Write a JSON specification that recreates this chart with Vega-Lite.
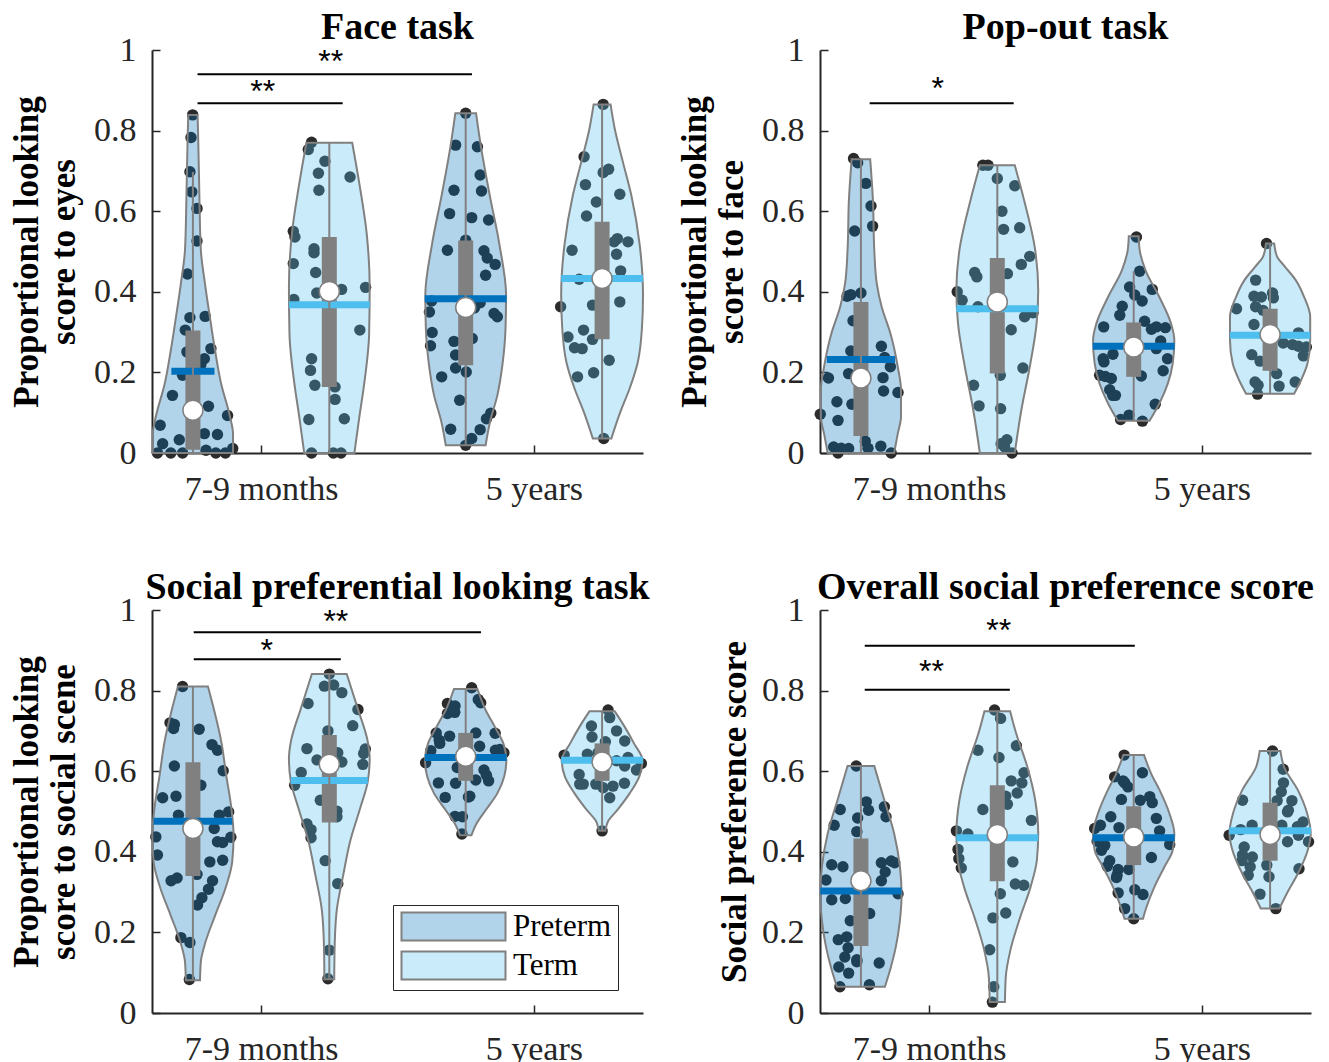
{
"$schema": "https://vega.github.io/schema/vega-lite/v6.json",
"background": "white",
"padding": {"left": 9, "top": 9, "right": 5, "bottom": 5},
"bounds": "flush",
"columns": 2,
"spacing": {"row": 157, "column": 177},
"resolve": {"scale": {"fill": "independent", "stroke": "independent"}, "legend": {"fill": "independent", "stroke": "independent"}},
"config": {
  "view": {"stroke": null},
  "font": "Liberation Serif",
  "axis": {"domainColor": "#262626", "domainWidth": 2, "tickColor": "#262626", "tickWidth": 1.5, "tickSize": -8, "labelFont": "Liberation Serif", "labelFontSize": 34, "labelColor": "#262626", "grid": false, "titleFont": "Liberation Serif", "titleFontSize": 35, "titleFontWeight": "bold", "titleColor": "black", "labelOverlap": false, "labelFlush": false},
  "axisX": {"labelPadding": 27},
  "axisY": {"labelPadding": 24, "titleAngle": 270, "titleX": -126, "titleY": 201.5, "titleAlign": "center", "titleBaseline": "middle", "titleLineHeight": 37},
  "title": {"font": "Liberation Serif", "fontSize": 38, "fontWeight": "bold", "color": "black", "anchor": "middle", "frame": "group", "baseline": "alphabetic", "offset": -14}
},
"datasets": {
"vio": [
{"p":"A","v":"A1","g":"Preterm","y":0,"lo":0.603,"hi":0.897},{"p":"A","v":"A1","g":"Preterm","y":0.048,"lo":0.603,"hi":0.897},{"p":"A","v":"A1","g":"Preterm","y":0.09,"lo":0.614,"hi":0.886},{"p":"A","v":"A1","g":"Preterm","y":0.173,"lo":0.647,"hi":0.853},{"p":"A","v":"A1","g":"Preterm","y":0.255,"lo":0.669,"hi":0.831},{"p":"A","v":"A1","g":"Preterm","y":0.338,"lo":0.688,"hi":0.812},{"p":"A","v":"A1","g":"Preterm","y":0.421,"lo":0.706,"hi":0.794},{"p":"A","v":"A1","g":"Preterm","y":0.504,"lo":0.721,"hi":0.779},{"p":"A","v":"A1","g":"Preterm","y":0.627,"lo":0.726,"hi":0.774},{"p":"A","v":"A1","g":"Preterm","y":0.793,"lo":0.731,"hi":0.769},{"p":"A","v":"A1","g":"Preterm","y":0.839,"lo":0.733,"hi":0.767},
{"p":"A","v":"A2","g":"Term","y":0,"lo":1.158,"hi":1.342},{"p":"A","v":"A2","g":"Term","y":0.089,"lo":1.14,"hi":1.36},{"p":"A","v":"A2","g":"Term","y":0.172,"lo":1.122,"hi":1.378},{"p":"A","v":"A2","g":"Term","y":0.296,"lo":1.104,"hi":1.396},{"p":"A","v":"A2","g":"Term","y":0.412,"lo":1.102,"hi":1.398},{"p":"A","v":"A2","g":"Term","y":0.545,"lo":1.113,"hi":1.387},{"p":"A","v":"A2","g":"Term","y":0.669,"lo":1.14,"hi":1.36},{"p":"A","v":"A2","g":"Term","y":0.77,"lo":1.166,"hi":1.334},
{"p":"A","v":"A3","g":"Preterm","y":0.019,"lo":1.677,"hi":1.823},{"p":"A","v":"A3","g":"Preterm","y":0.077,"lo":1.661,"hi":1.839},{"p":"A","v":"A3","g":"Preterm","y":0.143,"lo":1.634,"hi":1.866},{"p":"A","v":"A3","g":"Preterm","y":0.226,"lo":1.614,"hi":1.886},{"p":"A","v":"A3","g":"Preterm","y":0.309,"lo":1.604,"hi":1.896},{"p":"A","v":"A3","g":"Preterm","y":0.392,"lo":1.602,"hi":1.898},{"p":"A","v":"A3","g":"Preterm","y":0.516,"lo":1.626,"hi":1.874},{"p":"A","v":"A3","g":"Preterm","y":0.64,"lo":1.662,"hi":1.838},{"p":"A","v":"A3","g":"Preterm","y":0.764,"lo":1.695,"hi":1.805},{"p":"A","v":"A3","g":"Preterm","y":0.843,"lo":1.712,"hi":1.788},
{"p":"A","v":"A4","g":"Term","y":0.036,"lo":2.216,"hi":2.284},{"p":"A","v":"A4","g":"Term","y":0.061,"lo":2.204,"hi":2.296},{"p":"A","v":"A4","g":"Term","y":0.102,"lo":2.183,"hi":2.317},{"p":"A","v":"A4","g":"Term","y":0.16,"lo":2.149,"hi":2.351},{"p":"A","v":"A4","g":"Term","y":0.226,"lo":2.119,"hi":2.381},{"p":"A","v":"A4","g":"Term","y":0.309,"lo":2.104,"hi":2.396},{"p":"A","v":"A4","g":"Term","y":0.392,"lo":2.1,"hi":2.4},{"p":"A","v":"A4","g":"Term","y":0.516,"lo":2.112,"hi":2.388},{"p":"A","v":"A4","g":"Term","y":0.64,"lo":2.143,"hi":2.357},{"p":"A","v":"A4","g":"Term","y":0.723,"lo":2.174,"hi":2.326},{"p":"A","v":"A4","g":"Term","y":0.806,"lo":2.204,"hi":2.296},{"p":"A","v":"A4","g":"Term","y":0.865,"lo":2.219,"hi":2.281},
{"p":"B","v":"B1","g":"Preterm","y":0,"lo":0.628,"hi":0.872},{"p":"B","v":"B1","g":"Preterm","y":0.048,"lo":0.615,"hi":0.885},{"p":"B","v":"B1","g":"Preterm","y":0.09,"lo":0.603,"hi":0.897},{"p":"B","v":"B1","g":"Preterm","y":0.156,"lo":0.603,"hi":0.897},{"p":"B","v":"B1","g":"Preterm","y":0.214,"lo":0.615,"hi":0.885},{"p":"B","v":"B1","g":"Preterm","y":0.297,"lo":0.642,"hi":0.858},{"p":"B","v":"B1","g":"Preterm","y":0.363,"lo":0.674,"hi":0.826},{"p":"B","v":"B1","g":"Preterm","y":0.421,"lo":0.692,"hi":0.808},{"p":"B","v":"B1","g":"Preterm","y":0.503,"lo":0.701,"hi":0.799},{"p":"B","v":"B1","g":"Preterm","y":0.628,"lo":0.706,"hi":0.794},{"p":"B","v":"B1","g":"Preterm","y":0.729,"lo":0.716,"hi":0.784},
{"p":"B","v":"B2","g":"Term","y":0,"lo":1.186,"hi":1.314},{"p":"B","v":"B2","g":"Term","y":0.106,"lo":1.162,"hi":1.338},{"p":"B","v":"B2","g":"Term","y":0.214,"lo":1.131,"hi":1.369},{"p":"B","v":"B2","g":"Term","y":0.321,"lo":1.106,"hi":1.394},{"p":"B","v":"B2","g":"Term","y":0.404,"lo":1.1,"hi":1.4},{"p":"B","v":"B2","g":"Term","y":0.503,"lo":1.111,"hi":1.389},{"p":"B","v":"B2","g":"Term","y":0.628,"lo":1.152,"hi":1.348},{"p":"B","v":"B2","g":"Term","y":0.714,"lo":1.186,"hi":1.314},
{"p":"B","v":"B3","g":"Preterm","y":0.08,"lo":1.692,"hi":1.808},{"p":"B","v":"B3","g":"Preterm","y":0.123,"lo":1.656,"hi":1.844},{"p":"B","v":"B3","g":"Preterm","y":0.172,"lo":1.625,"hi":1.875},{"p":"B","v":"B3","g":"Preterm","y":0.222,"lo":1.607,"hi":1.893},{"p":"B","v":"B3","g":"Preterm","y":0.28,"lo":1.601,"hi":1.899},{"p":"B","v":"B3","g":"Preterm","y":0.321,"lo":1.613,"hi":1.887},{"p":"B","v":"B3","g":"Preterm","y":0.387,"lo":1.656,"hi":1.844},{"p":"B","v":"B3","g":"Preterm","y":0.454,"lo":1.707,"hi":1.793},{"p":"B","v":"B3","g":"Preterm","y":0.503,"lo":1.728,"hi":1.772},{"p":"B","v":"B3","g":"Preterm","y":0.538,"lo":1.732,"hi":1.768},
{"p":"B","v":"B4","g":"Term","y":0.147,"lo":2.162,"hi":2.338},{"p":"B","v":"B4","g":"Term","y":0.18,"lo":2.137,"hi":2.363},{"p":"B","v":"B4","g":"Term","y":0.222,"lo":2.113,"hi":2.387},{"p":"B","v":"B4","g":"Term","y":0.28,"lo":2.103,"hi":2.397},{"p":"B","v":"B4","g":"Term","y":0.338,"lo":2.103,"hi":2.397},{"p":"B","v":"B4","g":"Term","y":0.387,"lo":2.125,"hi":2.375},{"p":"B","v":"B4","g":"Term","y":0.429,"lo":2.156,"hi":2.344},{"p":"B","v":"B4","g":"Term","y":0.462,"lo":2.195,"hi":2.305},{"p":"B","v":"B4","g":"Term","y":0.487,"lo":2.224,"hi":2.276},{"p":"B","v":"B4","g":"Term","y":0.52,"lo":2.235,"hi":2.265},
{"p":"C","v":"C1","g":"Preterm","y":0.081,"lo":0.724,"hi":0.776},{"p":"C","v":"C1","g":"Preterm","y":0.127,"lo":0.721,"hi":0.779},{"p":"C","v":"C1","g":"Preterm","y":0.176,"lo":0.704,"hi":0.796},{"p":"C","v":"C1","g":"Preterm","y":0.243,"lo":0.668,"hi":0.832},{"p":"C","v":"C1","g":"Preterm","y":0.309,"lo":0.631,"hi":0.869},{"p":"C","v":"C1","g":"Preterm","y":0.375,"lo":0.606,"hi":0.894},{"p":"C","v":"C1","g":"Preterm","y":0.441,"lo":0.601,"hi":0.899},{"p":"C","v":"C1","g":"Preterm","y":0.508,"lo":0.609,"hi":0.891},{"p":"C","v":"C1","g":"Preterm","y":0.59,"lo":0.628,"hi":0.872},{"p":"C","v":"C1","g":"Preterm","y":0.673,"lo":0.646,"hi":0.854},{"p":"C","v":"C1","g":"Preterm","y":0.756,"lo":0.674,"hi":0.826},{"p":"C","v":"C1","g":"Preterm","y":0.81,"lo":0.695,"hi":0.805},
{"p":"C","v":"C2","g":"Term","y":0.084,"lo":1.232,"hi":1.268},{"p":"C","v":"C2","g":"Term","y":0.176,"lo":1.23,"hi":1.27},{"p":"C","v":"C2","g":"Term","y":0.259,"lo":1.222,"hi":1.278},{"p":"C","v":"C2","g":"Term","y":0.342,"lo":1.199,"hi":1.301},{"p":"C","v":"C2","g":"Term","y":0.425,"lo":1.174,"hi":1.326},{"p":"C","v":"C2","g":"Term","y":0.508,"lo":1.137,"hi":1.363},{"p":"C","v":"C2","g":"Term","y":0.574,"lo":1.109,"hi":1.391},{"p":"C","v":"C2","g":"Term","y":0.632,"lo":1.102,"hi":1.398},{"p":"C","v":"C2","g":"Term","y":0.673,"lo":1.109,"hi":1.391},{"p":"C","v":"C2","g":"Term","y":0.756,"lo":1.146,"hi":1.354},{"p":"C","v":"C2","g":"Term","y":0.841,"lo":1.186,"hi":1.314},
{"p":"C","v":"C3","g":"Preterm","y":0.441,"lo":1.729,"hi":1.771},{"p":"C","v":"C3","g":"Preterm","y":0.47,"lo":1.71,"hi":1.79},{"p":"C","v":"C3","g":"Preterm","y":0.503,"lo":1.677,"hi":1.823},{"p":"C","v":"C3","g":"Preterm","y":0.545,"lo":1.634,"hi":1.866},{"p":"C","v":"C3","g":"Preterm","y":0.586,"lo":1.609,"hi":1.891},{"p":"C","v":"C3","g":"Preterm","y":0.627,"lo":1.601,"hi":1.899},{"p":"C","v":"C3","g":"Preterm","y":0.669,"lo":1.612,"hi":1.888},{"p":"C","v":"C3","g":"Preterm","y":0.71,"lo":1.643,"hi":1.857},{"p":"C","v":"C3","g":"Preterm","y":0.752,"lo":1.677,"hi":1.823},{"p":"C","v":"C3","g":"Preterm","y":0.804,"lo":1.707,"hi":1.793},
{"p":"C","v":"C4","g":"Term","y":0.452,"lo":2.238,"hi":2.262},{"p":"C","v":"C4","g":"Term","y":0.478,"lo":2.226,"hi":2.274},{"p":"C","v":"C4","g":"Term","y":0.503,"lo":2.195,"hi":2.305},{"p":"C","v":"C4","g":"Term","y":0.545,"lo":2.149,"hi":2.351},{"p":"C","v":"C4","g":"Term","y":0.586,"lo":2.114,"hi":2.386},{"p":"C","v":"C4","g":"Term","y":0.627,"lo":2.102,"hi":2.398},{"p":"C","v":"C4","g":"Term","y":0.669,"lo":2.133,"hi":2.367},{"p":"C","v":"C4","g":"Term","y":0.71,"lo":2.167,"hi":2.333},{"p":"C","v":"C4","g":"Term","y":0.749,"lo":2.204,"hi":2.296},
{"p":"D","v":"D1","g":"Preterm","y":0.065,"lo":0.662,"hi":0.838},{"p":"D","v":"D1","g":"Preterm","y":0.114,"lo":0.64,"hi":0.86},{"p":"D","v":"D1","g":"Preterm","y":0.164,"lo":0.622,"hi":0.878},{"p":"D","v":"D1","g":"Preterm","y":0.23,"lo":0.607,"hi":0.893},{"p":"D","v":"D1","g":"Preterm","y":0.296,"lo":0.601,"hi":0.899},{"p":"D","v":"D1","g":"Preterm","y":0.363,"lo":0.607,"hi":0.893},{"p":"D","v":"D1","g":"Preterm","y":0.445,"lo":0.628,"hi":0.872},{"p":"D","v":"D1","g":"Preterm","y":0.528,"lo":0.664,"hi":0.836},{"p":"D","v":"D1","g":"Preterm","y":0.613,"lo":0.701,"hi":0.799},
{"p":"D","v":"D2","g":"Term","y":0.027,"lo":1.222,"hi":1.278},{"p":"D","v":"D2","g":"Term","y":0.089,"lo":1.219,"hi":1.281},{"p":"D","v":"D2","g":"Term","y":0.156,"lo":1.202,"hi":1.298},{"p":"D","v":"D2","g":"Term","y":0.238,"lo":1.166,"hi":1.334},{"p":"D","v":"D2","g":"Term","y":0.313,"lo":1.128,"hi":1.372},{"p":"D","v":"D2","g":"Term","y":0.379,"lo":1.105,"hi":1.395},{"p":"D","v":"D2","g":"Term","y":0.445,"lo":1.1,"hi":1.4},{"p":"D","v":"D2","g":"Term","y":0.528,"lo":1.111,"hi":1.389},{"p":"D","v":"D2","g":"Term","y":0.611,"lo":1.14,"hi":1.36},{"p":"D","v":"D2","g":"Term","y":0.694,"lo":1.181,"hi":1.319},{"p":"D","v":"D2","g":"Term","y":0.749,"lo":1.203,"hi":1.297},
{"p":"D","v":"D3","g":"Preterm","y":0.234,"lo":1.716,"hi":1.784},{"p":"D","v":"D3","g":"Preterm","y":0.263,"lo":1.703,"hi":1.797},{"p":"D","v":"D3","g":"Preterm","y":0.313,"lo":1.674,"hi":1.826},{"p":"D","v":"D3","g":"Preterm","y":0.363,"lo":1.637,"hi":1.863},{"p":"D","v":"D3","g":"Preterm","y":0.404,"lo":1.607,"hi":1.893},{"p":"D","v":"D3","g":"Preterm","y":0.445,"lo":1.601,"hi":1.899},{"p":"D","v":"D3","g":"Preterm","y":0.495,"lo":1.619,"hi":1.881},{"p":"D","v":"D3","g":"Preterm","y":0.553,"lo":1.655,"hi":1.845},{"p":"D","v":"D3","g":"Preterm","y":0.594,"lo":1.686,"hi":1.814},{"p":"D","v":"D3","g":"Preterm","y":0.64,"lo":1.712,"hi":1.788},
{"p":"D","v":"D4","g":"Term","y":0.259,"lo":2.216,"hi":2.284},{"p":"D","v":"D4","g":"Term","y":0.296,"lo":2.189,"hi":2.311},{"p":"D","v":"D4","g":"Term","y":0.346,"lo":2.148,"hi":2.352},{"p":"D","v":"D4","g":"Term","y":0.404,"lo":2.112,"hi":2.388},{"p":"D","v":"D4","g":"Term","y":0.445,"lo":2.101,"hi":2.399},{"p":"D","v":"D4","g":"Term","y":0.495,"lo":2.114,"hi":2.386},{"p":"D","v":"D4","g":"Term","y":0.553,"lo":2.148,"hi":2.352},{"p":"D","v":"D4","g":"Term","y":0.611,"lo":2.199,"hi":2.301},{"p":"D","v":"D4","g":"Term","y":0.65,"lo":2.212,"hi":2.288}
],
"pts": [
{"p":"A","x":0.749,"y":0.839},{"p":"A","x":0.743,"y":0.783},{"p":"A","x":0.739,"y":0.698},{"p":"A","x":0.746,"y":0.648},{"p":"A","x":0.765,"y":0.607},{"p":"A","x":0.765,"y":0.526},{"p":"A","x":0.73,"y":0.444},{"p":"A","x":0.739,"y":0.336},{"p":"A","x":0.795,"y":0.339},{"p":"A","x":0.722,"y":0.305},{"p":"A","x":0.816,"y":0.259},{"p":"A","x":0.728,"y":0.251},{"p":"A","x":0.792,"y":0.234},{"p":"A","x":0.779,"y":0.219},{"p":"A","x":0.712,"y":0.193},{"p":"A","x":0.675,"y":0.143},{"p":"A","x":0.807,"y":0.116},{"p":"A","x":0.877,"y":0.093},{"p":"A","x":0.63,"y":0.069},{"p":"A","x":0.792,"y":0.048},{"p":"A","x":0.84,"y":0.046},{"p":"A","x":0.7,"y":0.033},{"p":"A","x":0.639,"y":0.023},{"p":"A","x":0.798,"y":0.007},{"p":"A","x":0.62,"y":0},{"p":"A","x":0.669,"y":0},{"p":"A","x":0.712,"y":0},{"p":"A","x":0.834,"y":0},{"p":"A","x":0.869,"y":0},{"p":"A","x":0.896,"y":0.011},
{"p":"A","x":1.185,"y":0.771},{"p":"A","x":1.173,"y":0.753},{"p":"A","x":1.234,"y":0.724},{"p":"A","x":1.21,"y":0.694},{"p":"A","x":1.326,"y":0.685},{"p":"A","x":1.212,"y":0.652},{"p":"A","x":1.118,"y":0.55},{"p":"A","x":1.124,"y":0.536},{"p":"A","x":1.194,"y":0.507},{"p":"A","x":1.194,"y":0.497},{"p":"A","x":1.118,"y":0.47},{"p":"A","x":1.2,"y":0.448},{"p":"A","x":1.204,"y":0.397},{"p":"A","x":1.295,"y":0.406},{"p":"A","x":1.383,"y":0.411},{"p":"A","x":1.12,"y":0.381},{"p":"A","x":1.362,"y":0.305},{"p":"A","x":1.185,"y":0.234},{"p":"A","x":1.181,"y":0.205},{"p":"A","x":1.197,"y":0.168},{"p":"A","x":1.271,"y":0.164},{"p":"A","x":1.271,"y":0.133},{"p":"A","x":1.175,"y":0.083},{"p":"A","x":1.305,"y":0.085},{"p":"A","x":1.185,"y":0},{"p":"A","x":1.265,"y":0},{"p":"A","x":1.293,"y":0},
{"p":"A","x":1.75,"y":0.843},{"p":"A","x":1.713,"y":0.764},{"p":"A","x":1.793,"y":0.76},{"p":"A","x":1.803,"y":0.69},{"p":"A","x":1.707,"y":0.652},{"p":"A","x":1.808,"y":0.65},{"p":"A","x":1.691,"y":0.594},{"p":"A","x":1.772,"y":0.584},{"p":"A","x":1.834,"y":0.578},{"p":"A","x":1.75,"y":0.528},{"p":"A","x":1.683,"y":0.503},{"p":"A","x":1.817,"y":0.502},{"p":"A","x":1.829,"y":0.484},{"p":"A","x":1.858,"y":0.468},{"p":"A","x":1.823,"y":0.441},{"p":"A","x":1.625,"y":0.377},{"p":"A","x":1.803,"y":0.373},{"p":"A","x":1.782,"y":0.36},{"p":"A","x":1.617,"y":0.35},{"p":"A","x":1.854,"y":0.346},{"p":"A","x":1.866,"y":0.338},{"p":"A","x":1.627,"y":0.299},{"p":"A","x":1.621,"y":0.266},{"p":"A","x":1.707,"y":0.277},{"p":"A","x":1.713,"y":0.243},{"p":"A","x":1.774,"y":0.284},{"p":"A","x":1.713,"y":0.211},{"p":"A","x":1.752,"y":0.201},{"p":"A","x":1.662,"y":0.189},{"p":"A","x":1.728,"y":0.131},{"p":"A","x":1.842,"y":0.099},{"p":"A","x":1.826,"y":0.085},{"p":"A","x":1.695,"y":0.059},{"p":"A","x":1.803,"y":0.058},{"p":"A","x":1.772,"y":0.036},{"p":"A","x":1.75,"y":0.019},
{"p":"A","x":2.254,"y":0.865},{"p":"A","x":2.184,"y":0.735},{"p":"A","x":2.254,"y":0.696},{"p":"A","x":2.274,"y":0.704},{"p":"A","x":2.189,"y":0.666},{"p":"A","x":2.315,"y":0.642},{"p":"A","x":2.229,"y":0.623},{"p":"A","x":2.193,"y":0.588},{"p":"A","x":2.306,"y":0.532},{"p":"A","x":2.345,"y":0.524},{"p":"A","x":2.294,"y":0.524},{"p":"A","x":2.303,"y":0.493},{"p":"A","x":2.14,"y":0.503},{"p":"A","x":2.318,"y":0.452},{"p":"A","x":2.166,"y":0.431},{"p":"A","x":2.098,"y":0.363},{"p":"A","x":2.215,"y":0.367},{"p":"A","x":2.315,"y":0.375},{"p":"A","x":2.125,"y":0.288},{"p":"A","x":2.182,"y":0.305},{"p":"A","x":2.149,"y":0.261},{"p":"A","x":2.177,"y":0.259},{"p":"A","x":2.215,"y":0.282},{"p":"A","x":2.276,"y":0.23},{"p":"A","x":2.16,"y":0.189},{"p":"A","x":2.219,"y":0.199},{"p":"A","x":2.256,"y":0.036},
{"p":"B","x":0.723,"y":0.731},{"p":"B","x":0.738,"y":0.72},{"p":"B","x":0.768,"y":0.669},{"p":"B","x":0.787,"y":0.613},{"p":"B","x":0.793,"y":0.563},{"p":"B","x":0.727,"y":0.551},{"p":"B","x":0.699,"y":0.389},{"p":"B","x":0.713,"y":0.393},{"p":"B","x":0.75,"y":0.397},{"p":"B","x":0.721,"y":0.328},{"p":"B","x":0.713,"y":0.253},{"p":"B","x":0.825,"y":0.265},{"p":"B","x":0.837,"y":0.237},{"p":"B","x":0.858,"y":0.214},{"p":"B","x":0.705,"y":0.197},{"p":"B","x":0.631,"y":0.186},{"p":"B","x":0.831,"y":0.187},{"p":"B","x":0.833,"y":0.154},{"p":"B","x":0.886,"y":0.15},{"p":"B","x":0.662,"y":0.127},{"p":"B","x":0.717,"y":0.121},{"p":"B","x":0.601,"y":0.096},{"p":"B","x":0.666,"y":0.081},{"p":"B","x":0.766,"y":0.029},{"p":"B","x":0.776,"y":0.012},{"p":"B","x":0.823,"y":0.017},{"p":"B","x":0.65,"y":0.015},{"p":"B","x":0.678,"y":0.012},{"p":"B","x":0.705,"y":0.011},{"p":"B","x":0.666,"y":0},{"p":"B","x":0.861,"y":0},
{"p":"B","x":1.197,"y":0.714},{"p":"B","x":1.216,"y":0.714},{"p":"B","x":1.25,"y":0.681},{"p":"B","x":1.314,"y":0.663},{"p":"B","x":1.267,"y":0.6},{"p":"B","x":1.273,"y":0.555},{"p":"B","x":1.332,"y":0.559},{"p":"B","x":1.369,"y":0.488},{"p":"B","x":1.338,"y":0.468},{"p":"B","x":1.167,"y":0.448},{"p":"B","x":1.175,"y":0.437},{"p":"B","x":1.287,"y":0.445},{"p":"B","x":1.103,"y":0.4},{"p":"B","x":1.121,"y":0.379},{"p":"B","x":1.179,"y":0.363},{"p":"B","x":1.381,"y":0.348},{"p":"B","x":1.35,"y":0.338},{"p":"B","x":1.301,"y":0.306},{"p":"B","x":1.261,"y":0.193},{"p":"B","x":1.344,"y":0.211},{"p":"B","x":1.163,"y":0.168},{"p":"B","x":1.183,"y":0.117},{"p":"B","x":1.262,"y":0.11},{"p":"B","x":1.285,"y":0.033},{"p":"B","x":1.264,"y":0.023},{"p":"B","x":1.277,"y":0.015},{"p":"B","x":1.304,"y":0},
{"p":"B","x":1.76,"y":0.536},{"p":"B","x":1.772,"y":0.451},{"p":"B","x":1.735,"y":0.412},{"p":"B","x":1.818,"y":0.406},{"p":"B","x":1.754,"y":0.392},{"p":"B","x":1.781,"y":0.377},{"p":"B","x":1.708,"y":0.364},{"p":"B","x":1.699,"y":0.342},{"p":"B","x":1.64,"y":0.313},{"p":"B","x":1.79,"y":0.327},{"p":"B","x":1.815,"y":0.307},{"p":"B","x":1.833,"y":0.313},{"p":"B","x":1.866,"y":0.311},{"p":"B","x":1.849,"y":0.278},{"p":"B","x":1.833,"y":0.259},{"p":"B","x":1.674,"y":0.245},{"p":"B","x":1.638,"y":0.234},{"p":"B","x":1.641,"y":0.226},{"p":"B","x":1.874,"y":0.234},{"p":"B","x":1.858,"y":0.204},{"p":"B","x":1.625,"y":0.193},{"p":"B","x":1.646,"y":0.19},{"p":"B","x":1.668,"y":0.185},{"p":"B","x":1.778,"y":0.191},{"p":"B","x":1.662,"y":0.157},{"p":"B","x":1.673,"y":0.143},{"p":"B","x":1.683,"y":0.143},{"p":"B","x":1.829,"y":0.121},{"p":"B","x":1.733,"y":0.094},{"p":"B","x":1.702,"y":0.083},{"p":"B","x":1.782,"y":0.079},
{"p":"B","x":2.237,"y":0.52},{"p":"B","x":2.197,"y":0.429},{"p":"B","x":2.191,"y":0.389},{"p":"B","x":2.218,"y":0.387},{"p":"B","x":2.259,"y":0.397},{"p":"B","x":2.262,"y":0.385},{"p":"B","x":2.127,"y":0.358},{"p":"B","x":2.197,"y":0.363},{"p":"B","x":2.224,"y":0.354},{"p":"B","x":2.191,"y":0.319},{"p":"B","x":2.354,"y":0.298},{"p":"B","x":2.298,"y":0.273},{"p":"B","x":2.332,"y":0.269},{"p":"B","x":2.354,"y":0.265},{"p":"B","x":2.383,"y":0.263},{"p":"B","x":2.372,"y":0.241},{"p":"B","x":2.183,"y":0.244},{"p":"B","x":2.213,"y":0.228},{"p":"B","x":2.274,"y":0.197},{"p":"B","x":2.195,"y":0.176},{"p":"B","x":2.206,"y":0.168},{"p":"B","x":2.283,"y":0.166},{"p":"B","x":2.342,"y":0.176},{"p":"B","x":2.204,"y":0.146},
{"p":"C","x":0.712,"y":0.81},{"p":"C","x":0.666,"y":0.72},{"p":"C","x":0.682,"y":0.716},{"p":"C","x":0.679,"y":0.706},{"p":"C","x":0.773,"y":0.704},{"p":"C","x":0.82,"y":0.666},{"p":"C","x":0.84,"y":0.652},{"p":"C","x":0.682,"y":0.613},{"p":"C","x":0.861,"y":0.601},{"p":"C","x":0.779,"y":0.565},{"p":"C","x":0.639,"y":0.534},{"p":"C","x":0.688,"y":0.538},{"p":"C","x":0.697,"y":0.491},{"p":"C","x":0.881,"y":0.499},{"p":"C","x":0.847,"y":0.491},{"p":"C","x":0.614,"y":0.437},{"p":"C","x":0.828,"y":0.458},{"p":"C","x":0.84,"y":0.425},{"p":"C","x":0.859,"y":0.423},{"p":"C","x":0.889,"y":0.436},{"p":"C","x":0.62,"y":0.392},{"p":"C","x":0.859,"y":0.379},{"p":"C","x":0.812,"y":0.375},{"p":"C","x":0.765,"y":0.344},{"p":"C","x":0.67,"y":0.328},{"p":"C","x":0.692,"y":0.335},{"p":"C","x":0.822,"y":0.328},{"p":"C","x":0.807,"y":0.307},{"p":"C","x":0.783,"y":0.286},{"p":"C","x":0.767,"y":0.268},{"p":"C","x":0.706,"y":0.187},{"p":"C","x":0.739,"y":0.175},{"p":"C","x":0.737,"y":0.083},
{"p":"C","x":1.25,"y":0.841},{"p":"C","x":1.232,"y":0.811},{"p":"C","x":1.266,"y":0.814},{"p":"C","x":1.296,"y":0.795},{"p":"C","x":1.172,"y":0.768},{"p":"C","x":1.355,"y":0.753},{"p":"C","x":1.336,"y":0.713},{"p":"C","x":1.168,"y":0.656},{"p":"C","x":1.205,"y":0.628},{"p":"C","x":1.245,"y":0.7},{"p":"C","x":1.281,"y":0.646},{"p":"C","x":1.296,"y":0.623},{"p":"C","x":1.382,"y":0.655},{"p":"C","x":1.376,"y":0.644},{"p":"C","x":1.373,"y":0.617},{"p":"C","x":1.147,"y":0.597},{"p":"C","x":1.123,"y":0.565},{"p":"C","x":1.217,"y":0.528},{"p":"C","x":1.278,"y":0.501},{"p":"C","x":1.278,"y":0.487},{"p":"C","x":1.168,"y":0.469},{"p":"C","x":1.183,"y":0.455},{"p":"C","x":1.183,"y":0.435},{"p":"C","x":1.235,"y":0.378},{"p":"C","x":1.281,"y":0.321},{"p":"C","x":1.25,"y":0.156},{"p":"C","x":1.245,"y":0.085},
{"p":"C","x":1.772,"y":0.807},{"p":"C","x":1.683,"y":0.768},{"p":"C","x":1.711,"y":0.762},{"p":"C","x":1.796,"y":0.778},{"p":"C","x":1.805,"y":0.77},{"p":"C","x":1.683,"y":0.743},{"p":"C","x":1.71,"y":0.746},{"p":"C","x":1.642,"y":0.695},{"p":"C","x":1.691,"y":0.687},{"p":"C","x":1.653,"y":0.677},{"p":"C","x":1.655,"y":0.669},{"p":"C","x":1.787,"y":0.695},{"p":"C","x":1.858,"y":0.694},{"p":"C","x":1.801,"y":0.662},{"p":"C","x":1.622,"y":0.651},{"p":"C","x":1.859,"y":0.652},{"p":"C","x":1.875,"y":0.654},{"p":"C","x":1.89,"y":0.646},{"p":"C","x":1.603,"y":0.621},{"p":"C","x":1.719,"y":0.609},{"p":"C","x":1.817,"y":0.603},{"p":"C","x":1.826,"y":0.59},{"p":"C","x":1.834,"y":0.576},{"p":"C","x":1.65,"y":0.571},{"p":"C","x":1.713,"y":0.57},{"p":"C","x":1.787,"y":0.578},{"p":"C","x":1.675,"y":0.535},{"p":"C","x":1.765,"y":0.538},{"p":"C","x":1.76,"y":0.536},{"p":"C","x":1.711,"y":0.488},{"p":"C","x":1.738,"y":0.487},{"p":"C","x":1.736,"y":0.444},
{"p":"C","x":2.272,"y":0.752},{"p":"C","x":2.278,"y":0.733},{"p":"C","x":2.211,"y":0.712},{"p":"C","x":2.303,"y":0.7},{"p":"C","x":2.213,"y":0.685},{"p":"C","x":2.333,"y":0.675},{"p":"C","x":2.262,"y":0.673},{"p":"C","x":2.111,"y":0.64},{"p":"C","x":2.196,"y":0.642},{"p":"C","x":2.235,"y":0.646},{"p":"C","x":2.303,"y":0.626},{"p":"C","x":2.345,"y":0.634},{"p":"C","x":2.394,"y":0.619},{"p":"C","x":2.376,"y":0.603},{"p":"C","x":2.333,"y":0.613},{"p":"C","x":2.166,"y":0.592},{"p":"C","x":2.168,"y":0.568},{"p":"C","x":2.181,"y":0.568},{"p":"C","x":2.227,"y":0.568},{"p":"C","x":2.254,"y":0.559},{"p":"C","x":2.29,"y":0.563},{"p":"C","x":2.332,"y":0.57},{"p":"C","x":2.278,"y":0.534},{"p":"C","x":2.25,"y":0.452},
{"p":"D","x":0.733,"y":0.613},{"p":"D","x":0.77,"y":0.524},{"p":"D","x":0.778,"y":0.503},{"p":"D","x":0.674,"y":0.505},{"p":"D","x":0.836,"y":0.512},{"p":"D","x":0.842,"y":0.487},{"p":"D","x":0.738,"y":0.484},{"p":"D","x":0.652,"y":0.466},{"p":"D","x":0.735,"y":0.45},{"p":"D","x":0.643,"y":0.368},{"p":"D","x":0.684,"y":0.363},{"p":"D","x":0.825,"y":0.373},{"p":"D","x":0.861,"y":0.377},{"p":"D","x":0.874,"y":0.373},{"p":"D","x":0.839,"y":0.35},{"p":"D","x":0.622,"y":0.33},{"p":"D","x":0.825,"y":0.328},{"p":"D","x":0.886,"y":0.296},{"p":"D","x":0.643,"y":0.281},{"p":"D","x":0.693,"y":0.284},{"p":"D","x":0.782,"y":0.247},{"p":"D","x":0.711,"y":0.229},{"p":"D","x":0.667,"y":0.182},{"p":"D","x":0.698,"y":0.189},{"p":"D","x":0.703,"y":0.162},{"p":"D","x":0.691,"y":0.139},{"p":"D","x":0.735,"y":0.132},{"p":"D","x":0.735,"y":0.127},{"p":"D","x":0.817,"y":0.124},{"p":"D","x":0.669,"y":0.114},{"p":"D","x":0.705,"y":0.099},{"p":"D","x":0.781,"y":0.07},{"p":"D","x":0.673,"y":0.065},
{"p":"D","x":1.24,"y":0.752},{"p":"D","x":1.262,"y":0.731},{"p":"D","x":1.179,"y":0.652},{"p":"D","x":1.32,"y":0.663},{"p":"D","x":1.256,"y":0.634},{"p":"D","x":1.348,"y":0.596},{"p":"D","x":1.301,"y":0.576},{"p":"D","x":1.34,"y":0.571},{"p":"D","x":1.323,"y":0.546},{"p":"D","x":1.281,"y":0.538},{"p":"D","x":1.287,"y":0.518},{"p":"D","x":1.197,"y":0.505},{"p":"D","x":1.375,"y":0.478},{"p":"D","x":1.1,"y":0.452},{"p":"D","x":1.142,"y":0.444},{"p":"D","x":1.106,"y":0.406},{"p":"D","x":1.109,"y":0.383},{"p":"D","x":1.118,"y":0.36},{"p":"D","x":1.307,"y":0.375},{"p":"D","x":1.316,"y":0.32},{"p":"D","x":1.347,"y":0.317},{"p":"D","x":1.261,"y":0.296},{"p":"D","x":1.281,"y":0.248},{"p":"D","x":1.234,"y":0.236},{"p":"D","x":1.222,"y":0.157},{"p":"D","x":1.237,"y":0.065},{"p":"D","x":1.232,"y":0.027},
{"p":"D","x":1.715,"y":0.64},{"p":"D","x":1.68,"y":0.586},{"p":"D","x":1.711,"y":0.576},{"p":"D","x":1.717,"y":0.571},{"p":"D","x":1.729,"y":0.561},{"p":"D","x":1.782,"y":0.596},{"p":"D","x":1.705,"y":0.53},{"p":"D","x":1.774,"y":0.528},{"p":"D","x":1.809,"y":0.537},{"p":"D","x":1.818,"y":0.522},{"p":"D","x":1.666,"y":0.487},{"p":"D","x":1.833,"y":0.483},{"p":"D","x":1.628,"y":0.466},{"p":"D","x":1.696,"y":0.46},{"p":"D","x":1.607,"y":0.458},{"p":"D","x":1.845,"y":0.452},{"p":"D","x":1.616,"y":0.426},{"p":"D","x":1.644,"y":0.416},{"p":"D","x":1.632,"y":0.404},{"p":"D","x":1.882,"y":0.418},{"p":"D","x":1.815,"y":0.386},{"p":"D","x":1.662,"y":0.378},{"p":"D","x":1.653,"y":0.364},{"p":"D","x":1.693,"y":0.356},{"p":"D","x":1.689,"y":0.342},{"p":"D","x":1.687,"y":0.336},{"p":"D","x":1.732,"y":0.356},{"p":"D","x":1.693,"y":0.298},{"p":"D","x":1.754,"y":0.306},{"p":"D","x":1.784,"y":0.294},{"p":"D","x":1.717,"y":0.259},{"p":"D","x":1.75,"y":0.234},
{"p":"D","x":2.259,"y":0.65},{"p":"D","x":2.298,"y":0.605},{"p":"D","x":2.299,"y":0.571},{"p":"D","x":2.291,"y":0.549},{"p":"D","x":2.276,"y":0.527},{"p":"D","x":2.33,"y":0.527},{"p":"D","x":2.317,"y":0.503},{"p":"D","x":2.314,"y":0.499},{"p":"D","x":2.149,"y":0.528},{"p":"D","x":2.371,"y":0.474},{"p":"D","x":2.35,"y":0.462},{"p":"D","x":2.293,"y":0.466},{"p":"D","x":2.142,"y":0.455},{"p":"D","x":2.184,"y":0.466},{"p":"D","x":2.1,"y":0.441},{"p":"D","x":2.391,"y":0.425},{"p":"D","x":2.354,"y":0.441},{"p":"D","x":2.314,"y":0.425},{"p":"D","x":2.155,"y":0.412},{"p":"D","x":2.149,"y":0.392},{"p":"D","x":2.147,"y":0.378},{"p":"D","x":2.185,"y":0.387},{"p":"D","x":2.177,"y":0.363},{"p":"D","x":2.238,"y":0.367},{"p":"D","x":2.356,"y":0.358},{"p":"D","x":2.17,"y":0.342},{"p":"D","x":2.246,"y":0.338},{"p":"D","x":2.213,"y":0.295},{"p":"D","x":2.271,"y":0.259}
],
"st": [
{"p":"A","g":"Preterm","pos":0.75,"q1":0.008,"q3":0.304,"wlo":0,"whi":0.697,"med":0.106,"mean":0.203,"mlo":0.671,"mhi":0.829},
{"p":"A","g":"Term","pos":1.25,"q1":0.164,"q3":0.536,"wlo":0,"whi":0.77,"med":0.401,"mean":0.368,"mlo":1.102,"mhi":1.398},
{"p":"A","g":"Preterm","pos":1.75,"q1":0.218,"q3":0.527,"wlo":0.019,"whi":0.843,"med":0.361,"mean":0.383,"mlo":1.6,"mhi":1.9},
{"p":"A","g":"Term","pos":2.25,"q1":0.282,"q3":0.574,"wlo":0.036,"whi":0.865,"med":0.433,"mean":0.433,"mlo":2.1,"mhi":2.4},
{"p":"B","g":"Preterm","pos":0.75,"q1":0.042,"q3":0.375,"wlo":0,"whi":0.729,"med":0.186,"mean":0.232,"mlo":0.625,"mhi":0.875},
{"p":"B","g":"Term","pos":1.25,"q1":0.197,"q3":0.484,"wlo":0,"whi":0.714,"med":0.375,"mean":0.358,"mlo":1.1,"mhi":1.4},
{"p":"B","g":"Preterm","pos":1.75,"q1":0.189,"q3":0.324,"wlo":0.08,"whi":0.451,"med":0.263,"mean":0.265,"mlo":1.6,"mhi":1.9},
{"p":"B","g":"Term","pos":2.25,"q1":0.204,"q3":0.358,"wlo":0.146,"whi":0.52,"med":0.294,"mean":0.292,"mlo":2.103,"mhi":2.397},
{"p":"C","g":"Preterm","pos":0.75,"q1":0.34,"q3":0.622,"wlo":0.083,"whi":0.81,"med":0.458,"mean":0.476,"mlo":0.606,"mhi":0.894},
{"p":"C","g":"Term","pos":1.25,"q1":0.473,"q3":0.69,"wlo":0.085,"whi":0.841,"med":0.617,"mean":0.577,"mlo":1.109,"mhi":1.391},
{"p":"C","g":"Preterm","pos":1.75,"q1":0.576,"q3":0.695,"wlo":0.444,"whi":0.804,"med":0.637,"mean":0.634,"mlo":1.6,"mhi":1.9},
{"p":"C","g":"Term","pos":2.25,"q1":0.576,"q3":0.669,"wlo":0.452,"whi":0.749,"med":0.623,"mean":0.627,"mlo":2.1,"mhi":2.4},
{"p":"D","g":"Preterm","pos":0.75,"q1":0.166,"q3":0.433,"wlo":0.065,"whi":0.613,"med":0.328,"mean":0.303,"mlo":0.601,"mhi":0.899},
{"p":"D","g":"Term","pos":1.25,"q1":0.327,"q3":0.565,"wlo":0.027,"whi":0.749,"med":0.443,"mean":0.435,"mlo":1.1,"mhi":1.4},
{"p":"D","g":"Preterm","pos":1.75,"q1":0.367,"q3":0.513,"wlo":0.234,"whi":0.64,"med":0.437,"mean":0.435,"mlo":1.6,"mhi":1.9},
{"p":"D","g":"Term","pos":2.25,"q1":0.378,"q3":0.522,"wlo":0.259,"whi":0.65,"med":0.443,"mean":0.452,"mlo":2.1,"mhi":2.4}
],
"sig": [
{"p":"A","x1":0.767,"x2":1.773,"y":0.94,"t":"**","tx":1.255,"ty":0.945},
{"p":"A","x1":0.767,"x2":1.299,"y":0.868,"t":"**","tx":1.006,"ty":0.871},
{"p":"B","x1":0.782,"x2":1.31,"y":0.868,"t":"*","tx":1.032,"ty":0.878},
{"p":"C","x1":0.753,"x2":1.806,"y":0.945,"t":"**","tx":1.274,"ty":0.945},
{"p":"C","x1":0.753,"x2":1.292,"y":0.878,"t":"*","tx":1.021,"ty":0.873},
{"p":"D","x1":0.764,"x2":1.754,"y":0.911,"t":"**","tx":1.255,"ty":0.923},
{"p":"D","x1":0.764,"x2":1.296,"y":0.802,"t":"**","tx":1.009,"ty":0.821}
]
},
"concat": [
{
 "width": 491, "height": 403,
 "title": {"text": "Face task"},
 "layer": [
  {"data": {"name": "pts"}, "transform": [{"filter": "datum.p=='A'"}],
   "mark": {"type": "point", "shape": "circle", "filled": true, "size": 130, "color": "#2b2b2b", "opacity": 1},
   "encoding": {
    "x": {"field": "x", "type": "quantitative", "title": null, "scale": {"domain": [0.6, 2.4], "nice": false, "zero": false}, "axis": {"values": [1, 2], "labelExpr": "datum.value == 1 ? '7-9 months' : '5 years'"}},
    "y": {"field": "y", "type": "quantitative", "title": ["Proportional looking", "score to eyes"], "scale": {"domain": [0, 1], "nice": false, "zero": false}, "axis": {"values": [0, 0.2, 0.4, 0.6, 0.8, 1], "format": ".1~f"}}}},
  {"data": {"name": "vio"}, "transform": [{"filter": "datum.p=='A'"}],
   "mark": {"type": "area", "orient": "horizontal", "interpolate": "monotone", "fillOpacity": 0.3, "stroke": "#808080", "strokeWidth": 2, "strokeOpacity": 1},
   "encoding": {"y": {"field": "y", "type": "quantitative", "title": ["Proportional looking", "score to eyes"]}, "x": {"field": "lo", "type": "quantitative", "title": null, "stack": null}, "x2": {"field": "hi"}, "fill": {"field": "g", "type": "nominal", "scale": {"domain": ["Preterm", "Term"], "range": ["#0072bd", "#4dbeee"]}, "legend": null}, "detail": {"field": "v"}}},
  {"data": {"name": "st"}, "transform": [{"filter": "datum.p=='A'"}],
   "mark": {"type": "rule", "strokeWidth": 15, "color": "#808080", "strokeCap": "butt"},
   "encoding": {"x": {"field": "pos", "type": "quantitative", "title": null}, "y": {"field": "q1", "type": "quantitative", "title": ["Proportional looking", "score to eyes"]}, "y2": {"field": "q3"}}},
  {"data": {"name": "st"}, "transform": [{"filter": "datum.p=='A'"}],
   "mark": {"type": "rule", "strokeWidth": 7, "strokeCap": "butt"},
   "encoding": {"x": {"field": "mlo", "type": "quantitative", "title": null}, "x2": {"field": "mhi"}, "y": {"field": "mean", "type": "quantitative", "title": ["Proportional looking", "score to eyes"]}, "stroke": {"field": "g", "type": "nominal", "scale": {"domain": ["Preterm", "Term"], "range": ["#0072bd", "#4dbeee"]}, "legend": null}}},
  {"data": {"name": "st"}, "transform": [{"filter": "datum.p=='A'"}],
   "mark": {"type": "rule", "strokeWidth": 2, "color": "#808080"},
   "encoding": {"x": {"field": "pos", "type": "quantitative", "title": null}, "y": {"field": "wlo", "type": "quantitative", "title": ["Proportional looking", "score to eyes"]}, "y2": {"field": "whi"}}},
  {"data": {"name": "st"}, "transform": [{"filter": "datum.p=='A'"}],
   "mark": {"type": "point", "shape": "circle", "filled": true, "fill": "white", "stroke": "#808080", "strokeWidth": 1.5, "size": 400, "opacity": 1},
   "encoding": {"x": {"field": "pos", "type": "quantitative", "title": null}, "y": {"field": "med", "type": "quantitative", "title": ["Proportional looking", "score to eyes"]}}},
  {"data": {"name": "sig"}, "transform": [{"filter": "datum.p=='A'"}],
   "mark": {"type": "rule", "strokeWidth": 2, "color": "black"},
   "encoding": {"x": {"field": "x1", "type": "quantitative", "title": null}, "x2": {"field": "x2"}, "y": {"field": "y", "type": "quantitative", "title": ["Proportional looking", "score to eyes"]}}},
  {"data": {"name": "sig"}, "transform": [{"filter": "datum.p=='A'"}],
   "mark": {"type": "text", "font": "Liberation Sans", "fontSize": 32, "baseline": "alphabetic", "align": "center", "color": "black"},
   "encoding": {"x": {"field": "tx", "type": "quantitative", "title": null}, "y": {"field": "ty", "type": "quantitative", "title": ["Proportional looking", "score to eyes"]}, "text": {"field": "t"}}}
 ]
},
{
 "width": 491, "height": 403,
 "title": {"text": "Pop-out task"},
 "layer": [
  {"data": {"name": "pts"}, "transform": [{"filter": "datum.p=='B'"}],
   "mark": {"type": "point", "shape": "circle", "filled": true, "size": 130, "color": "#2b2b2b", "opacity": 1},
   "encoding": {
    "x": {"field": "x", "type": "quantitative", "title": null, "scale": {"domain": [0.6, 2.4], "nice": false, "zero": false}, "axis": {"values": [1, 2], "labelExpr": "datum.value == 1 ? '7-9 months' : '5 years'"}},
    "y": {"field": "y", "type": "quantitative", "title": ["Proportional looking", "score to face"], "scale": {"domain": [0, 1], "nice": false, "zero": false}, "axis": {"values": [0, 0.2, 0.4, 0.6, 0.8, 1], "format": ".1~f"}}}},
  {"data": {"name": "vio"}, "transform": [{"filter": "datum.p=='B'"}],
   "mark": {"type": "area", "orient": "horizontal", "interpolate": "monotone", "fillOpacity": 0.3, "stroke": "#808080", "strokeWidth": 2, "strokeOpacity": 1},
   "encoding": {"y": {"field": "y", "type": "quantitative", "title": ["Proportional looking", "score to face"]}, "x": {"field": "lo", "type": "quantitative", "title": null, "stack": null}, "x2": {"field": "hi"}, "fill": {"field": "g", "type": "nominal", "scale": {"domain": ["Preterm", "Term"], "range": ["#0072bd", "#4dbeee"]}, "legend": null}, "detail": {"field": "v"}}},
  {"data": {"name": "st"}, "transform": [{"filter": "datum.p=='B'"}],
   "mark": {"type": "rule", "strokeWidth": 15, "color": "#808080", "strokeCap": "butt"},
   "encoding": {"x": {"field": "pos", "type": "quantitative", "title": null}, "y": {"field": "q1", "type": "quantitative", "title": ["Proportional looking", "score to face"]}, "y2": {"field": "q3"}}},
  {"data": {"name": "st"}, "transform": [{"filter": "datum.p=='B'"}],
   "mark": {"type": "rule", "strokeWidth": 7, "strokeCap": "butt"},
   "encoding": {"x": {"field": "mlo", "type": "quantitative", "title": null}, "x2": {"field": "mhi"}, "y": {"field": "mean", "type": "quantitative", "title": ["Proportional looking", "score to face"]}, "stroke": {"field": "g", "type": "nominal", "scale": {"domain": ["Preterm", "Term"], "range": ["#0072bd", "#4dbeee"]}, "legend": null}}},
  {"data": {"name": "st"}, "transform": [{"filter": "datum.p=='B'"}],
   "mark": {"type": "rule", "strokeWidth": 2, "color": "#808080"},
   "encoding": {"x": {"field": "pos", "type": "quantitative", "title": null}, "y": {"field": "wlo", "type": "quantitative", "title": ["Proportional looking", "score to face"]}, "y2": {"field": "whi"}}},
  {"data": {"name": "st"}, "transform": [{"filter": "datum.p=='B'"}],
   "mark": {"type": "point", "shape": "circle", "filled": true, "fill": "white", "stroke": "#808080", "strokeWidth": 1.5, "size": 400, "opacity": 1},
   "encoding": {"x": {"field": "pos", "type": "quantitative", "title": null}, "y": {"field": "med", "type": "quantitative", "title": ["Proportional looking", "score to face"]}}},
  {"data": {"name": "sig"}, "transform": [{"filter": "datum.p=='B'"}],
   "mark": {"type": "rule", "strokeWidth": 2, "color": "black"},
   "encoding": {"x": {"field": "x1", "type": "quantitative", "title": null}, "x2": {"field": "x2"}, "y": {"field": "y", "type": "quantitative", "title": ["Proportional looking", "score to face"]}}},
  {"data": {"name": "sig"}, "transform": [{"filter": "datum.p=='B'"}],
   "mark": {"type": "text", "font": "Liberation Sans", "fontSize": 32, "baseline": "alphabetic", "align": "center", "color": "black"},
   "encoding": {"x": {"field": "tx", "type": "quantitative", "title": null}, "y": {"field": "ty", "type": "quantitative", "title": ["Proportional looking", "score to face"]}, "text": {"field": "t"}}}
 ]
},
{
 "width": 491, "height": 403,
 "title": {"text": "Social preferential looking task"},
 "layer": [
  {"data": {"name": "pts"}, "transform": [{"filter": "datum.p=='C'"}],
   "mark": {"type": "point", "shape": "circle", "filled": true, "size": 130, "color": "#2b2b2b", "opacity": 1},
   "encoding": {
    "x": {"field": "x", "type": "quantitative", "title": null, "scale": {"domain": [0.6, 2.4], "nice": false, "zero": false}, "axis": {"values": [1, 2], "labelExpr": "datum.value == 1 ? '7-9 months' : '5 years'"}},
    "y": {"field": "y", "type": "quantitative", "title": ["Proportional looking", "score to social scene"], "scale": {"domain": [0, 1], "nice": false, "zero": false}, "axis": {"values": [0, 0.2, 0.4, 0.6, 0.8, 1], "format": ".1~f"}}}},
  {"data": {"name": "vio"}, "transform": [{"filter": "datum.p=='C'"}],
   "mark": {"type": "area", "orient": "horizontal", "interpolate": "monotone", "fillOpacity": 0.3, "stroke": "#808080", "strokeWidth": 2, "strokeOpacity": 1},
   "encoding": {"y": {"field": "y", "type": "quantitative", "title": ["Proportional looking", "score to social scene"]}, "x": {"field": "lo", "type": "quantitative", "title": null, "stack": null}, "x2": {"field": "hi"}, "detail": {"field": "v"},
    "fill": {"field": "g", "type": "nominal", "scale": {"domain": ["Preterm", "Term"], "range": ["#0072bd", "#4dbeee"]},
     "legend": {"orient": "none", "legendX": 241, "legendY": 295, "title": null, "direction": "vertical", "padding": 6, "fillColor": "white", "strokeColor": "#262626", "symbolType": "M-4,-1.08H4V1.08H-4Z", "symbolSize": 676, "symbolOffset": 39, "symbolStrokeColor": "#808080", "symbolStrokeWidth": 2, "symbolOpacity": 1, "labelFont": "Liberation Serif", "labelFontSize": 31, "labelColor": "black", "labelOffset": 44, "rowPadding": 2,
      "encoding": {"symbols": {"stroke": {"value": "#808080"}, "strokeWidth": {"value": 2}, "fillOpacity": {"value": 0.3}, "strokeOpacity": {"value": 1}}}}}}},
  {"data": {"name": "st"}, "transform": [{"filter": "datum.p=='C'"}],
   "mark": {"type": "rule", "strokeWidth": 15, "color": "#808080", "strokeCap": "butt"},
   "encoding": {"x": {"field": "pos", "type": "quantitative", "title": null}, "y": {"field": "q1", "type": "quantitative", "title": ["Proportional looking", "score to social scene"]}, "y2": {"field": "q3"}}},
  {"data": {"name": "st"}, "transform": [{"filter": "datum.p=='C' && datum.g=='Preterm'"}],
   "mark": {"type": "rule", "strokeWidth": 7, "strokeCap": "butt", "color": "#0072bd"},
   "encoding": {"x": {"field": "mlo", "type": "quantitative", "title": null}, "x2": {"field": "mhi"}, "y": {"field": "mean", "type": "quantitative", "title": ["Proportional looking", "score to social scene"]}}},
  {"data": {"name": "st"}, "transform": [{"filter": "datum.p=='C' && datum.g=='Term'"}],
   "mark": {"type": "rule", "strokeWidth": 7, "strokeCap": "butt", "color": "#4dbeee"},
   "encoding": {"x": {"field": "mlo", "type": "quantitative", "title": null}, "x2": {"field": "mhi"}, "y": {"field": "mean", "type": "quantitative", "title": ["Proportional looking", "score to social scene"]}}},
  {"data": {"name": "st"}, "transform": [{"filter": "datum.p=='C'"}],
   "mark": {"type": "rule", "strokeWidth": 2, "color": "#808080"},
   "encoding": {"x": {"field": "pos", "type": "quantitative", "title": null}, "y": {"field": "wlo", "type": "quantitative", "title": ["Proportional looking", "score to social scene"]}, "y2": {"field": "whi"}}},
  {"data": {"name": "st"}, "transform": [{"filter": "datum.p=='C'"}],
   "mark": {"type": "point", "shape": "circle", "filled": true, "fill": "white", "stroke": "#808080", "strokeWidth": 1.5, "size": 400, "opacity": 1},
   "encoding": {"x": {"field": "pos", "type": "quantitative", "title": null}, "y": {"field": "med", "type": "quantitative", "title": ["Proportional looking", "score to social scene"]}}},
  {"data": {"name": "sig"}, "transform": [{"filter": "datum.p=='C'"}],
   "mark": {"type": "rule", "strokeWidth": 2, "color": "black"},
   "encoding": {"x": {"field": "x1", "type": "quantitative", "title": null}, "x2": {"field": "x2"}, "y": {"field": "y", "type": "quantitative", "title": ["Proportional looking", "score to social scene"]}}},
  {"data": {"name": "sig"}, "transform": [{"filter": "datum.p=='C'"}],
   "mark": {"type": "text", "font": "Liberation Sans", "fontSize": 32, "baseline": "alphabetic", "align": "center", "color": "black"},
   "encoding": {"x": {"field": "tx", "type": "quantitative", "title": null}, "y": {"field": "ty", "type": "quantitative", "title": ["Proportional looking", "score to social scene"]}, "text": {"field": "t"}}}
 ]
},
{
 "width": 491, "height": 403,
 "title": {"text": "Overall social preference score"},
 "layer": [
  {"data": {"name": "pts"}, "transform": [{"filter": "datum.p=='D'"}],
   "mark": {"type": "point", "shape": "circle", "filled": true, "size": 130, "color": "#2b2b2b", "opacity": 1},
   "encoding": {
    "x": {"field": "x", "type": "quantitative", "title": null, "scale": {"domain": [0.6, 2.4], "nice": false, "zero": false}, "axis": {"values": [1, 2], "labelExpr": "datum.value == 1 ? '7-9 months' : '5 years'"}},
    "y": {"field": "y", "type": "quantitative", "title": "Social preference score", "scale": {"domain": [0, 1], "nice": false, "zero": false}, "axis": {"values": [0, 0.2, 0.4, 0.6, 0.8, 1], "format": ".1~f", "titleX": -86}}}},
  {"data": {"name": "vio"}, "transform": [{"filter": "datum.p=='D'"}],
   "mark": {"type": "area", "orient": "horizontal", "interpolate": "monotone", "fillOpacity": 0.3, "stroke": "#808080", "strokeWidth": 2, "strokeOpacity": 1},
   "encoding": {"y": {"field": "y", "type": "quantitative", "title": "Social preference score"}, "x": {"field": "lo", "type": "quantitative", "title": null, "stack": null}, "x2": {"field": "hi"}, "fill": {"field": "g", "type": "nominal", "scale": {"domain": ["Preterm", "Term"], "range": ["#0072bd", "#4dbeee"]}, "legend": null}, "detail": {"field": "v"}}},
  {"data": {"name": "st"}, "transform": [{"filter": "datum.p=='D'"}],
   "mark": {"type": "rule", "strokeWidth": 15, "color": "#808080", "strokeCap": "butt"},
   "encoding": {"x": {"field": "pos", "type": "quantitative", "title": null}, "y": {"field": "q1", "type": "quantitative", "title": "Social preference score"}, "y2": {"field": "q3"}}},
  {"data": {"name": "st"}, "transform": [{"filter": "datum.p=='D'"}],
   "mark": {"type": "rule", "strokeWidth": 7, "strokeCap": "butt"},
   "encoding": {"x": {"field": "mlo", "type": "quantitative", "title": null}, "x2": {"field": "mhi"}, "y": {"field": "mean", "type": "quantitative", "title": "Social preference score"}, "stroke": {"field": "g", "type": "nominal", "scale": {"domain": ["Preterm", "Term"], "range": ["#0072bd", "#4dbeee"]}, "legend": null}}},
  {"data": {"name": "st"}, "transform": [{"filter": "datum.p=='D'"}],
   "mark": {"type": "rule", "strokeWidth": 2, "color": "#808080"},
   "encoding": {"x": {"field": "pos", "type": "quantitative", "title": null}, "y": {"field": "wlo", "type": "quantitative", "title": "Social preference score"}, "y2": {"field": "whi"}}},
  {"data": {"name": "st"}, "transform": [{"filter": "datum.p=='D'"}],
   "mark": {"type": "point", "shape": "circle", "filled": true, "fill": "white", "stroke": "#808080", "strokeWidth": 1.5, "size": 400, "opacity": 1},
   "encoding": {"x": {"field": "pos", "type": "quantitative", "title": null}, "y": {"field": "med", "type": "quantitative", "title": "Social preference score"}}},
  {"data": {"name": "sig"}, "transform": [{"filter": "datum.p=='D'"}],
   "mark": {"type": "rule", "strokeWidth": 2, "color": "black"},
   "encoding": {"x": {"field": "x1", "type": "quantitative", "title": null}, "x2": {"field": "x2"}, "y": {"field": "y", "type": "quantitative", "title": "Social preference score"}}},
  {"data": {"name": "sig"}, "transform": [{"filter": "datum.p=='D'"}],
   "mark": {"type": "text", "font": "Liberation Sans", "fontSize": 32, "baseline": "alphabetic", "align": "center", "color": "black"},
   "encoding": {"x": {"field": "tx", "type": "quantitative", "title": null}, "y": {"field": "ty", "type": "quantitative", "title": "Social preference score"}, "text": {"field": "t"}}}
 ]
}
]
}
